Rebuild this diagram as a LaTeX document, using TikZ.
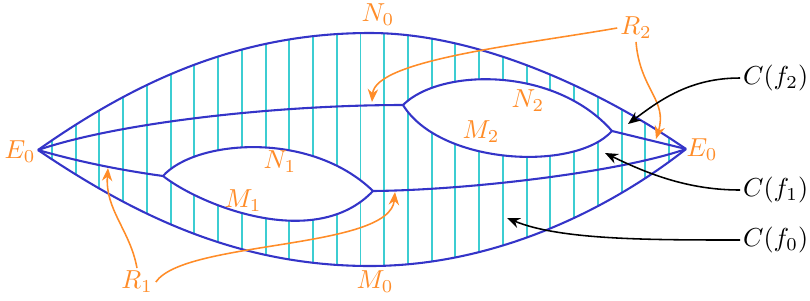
\documentclass[tikz,border=0pt]{standalone}
\usetikzlibrary{arrows.meta}
\definecolor{bblue}{RGB}{52,52,200}
\definecolor{oorange}{RGB}{255,140,40}
\definecolor{ccyan}{RGB}{60,205,210}
\tikzset{
  bline/.style={draw=bblue, line width=0.8pt},
  hatch/.style={draw=ccyan, line width=0.75pt},
  oarrow/.style={draw=oorange, line width=0.6pt, -{Stealth[length=5pt,width=4pt]}},
  karrow/.style={draw=black, line width=0.6pt, -{Stealth[length=5pt,width=4pt]}},
  olabel/.style={text=oorange, inner sep=1pt},
  klabel/.style={text=black, inner sep=1pt},
}
\begin{document}
\begin{tikzpicture}[x=0.3846pt, y=-0.3846pt]
\useasboundingbox (0,0) rectangle (810,300);
% named points
\coordinate (EL) at (38,150);
\coordinate (ER) at (686,149);
\coordinate (Ntop) at (370,33);
\coordinate (Mbot) at (370,266);
\coordinate (J2) at (403,105);
\coordinate (K2) at (612,131);
\coordinate (J1) at (163,176);
\coordinate (K1) at (373,191);
% hatching clipped to outer lens
\begin{scope}
  \clip (EL) .. controls (136,81) and (240,33) .. (Ntop)
             .. controls (480,33) and (603,92) .. (ER)
             .. controls (615,205) and (500,266) .. (Mbot)
             .. controls (240,266) and (137,217) .. (EL) -- cycle;
  \foreach \k in {0,...,26} {
    \draw[hatch] ({52+23.73*\k},0) -- ({52+23.73*\k},300);
  }
\end{scope}
% white lens interiors
\fill[white] (J2) .. controls (440,68) and (555,66) .. (K2)
                  .. controls (575,172) and (440,165) .. (J2) -- cycle;
\fill[white] (J1) .. controls (195,140) and (310,130) .. (K1)
                  .. controls (315,252) and (200,205) .. (J1) -- cycle;
% blue curves
\draw[bline] (EL) .. controls (136,81) and (240,33) .. (Ntop)
                  .. controls (480,33) and (603,92) .. (ER);
\draw[bline] (EL) .. controls (137,217) and (240,266) .. (Mbot)
                  .. controls (500,266) and (615,205) .. (ER);
\draw[bline] (EL) .. controls (120,122) and (280,105) .. (J2);
\draw[bline] (J2) .. controls (440,68) and (555,66) .. (K2);
\draw[bline] (J2) .. controls (440,165) and (575,172) .. (K2);
\draw[bline] (K2) -- (ER);
\draw[bline] (EL) .. controls (80,162) and (120,170) .. (J1);
\draw[bline] (J1) .. controls (195,140) and (310,130) .. (K1);
\draw[bline] (J1) .. controls (200,205) and (315,252) .. (K1);
\draw[bline] (K1) .. controls (470,190) and (620,172) .. (ER);
% labels
\node[olabel] (N0) at (378,15) {$N_0$};
\node[olabel] (M0) at (375,282) {$M_0$};
\node[olabel] (N1) at (280,162) {$N_1$};
\node[olabel] (M1) at (243,201) {$M_1$};
\node[olabel] (N2) at (528,101) {$N_2$};
\node[olabel] (M2) at (481,132) {$M_2$};
\node[olabel] (EL0) at (20,152) {$E_0$};
\node[olabel] (ER0) at (702,150) {$E_0$};
\node[olabel] (R1) at (137,282) {$R_1$};
\node[olabel] (R2) at (636,28) {$R_2$};
\node[klabel, anchor=west] (Cf2) at (740,78) {$C(f_2)$};
\node[klabel, anchor=west] (Cf1) at (740,190) {$C(f_1)$};
\node[klabel, anchor=west] (Cf0) at (740,240) {$C(f_0)$};
% arrow targets
\coordinate (tR2a) at (372,102);
\coordinate (tR2b) at (656,139);
\coordinate (tR1a) at (108,168);
\coordinate (tR1b) at (395,192);
\coordinate (tC2) at (628,124);
\coordinate (tC1) at (605,153);
\coordinate (tC0) at (507,218);
% orange arrows
\draw[oarrow] (R2.west) .. controls (520,45) and (375,60) .. (tR2a);
\draw[oarrow] (R2.south) .. controls (640,90) and (668,100) .. (tR2b);
\draw[oarrow] (R1.north) .. controls (130,230) and (105,210) .. (tR1a);
\draw[oarrow] (R1.east) .. controls (185,240) and (390,250) .. (tR1b);
% black arrows
\draw[karrow] (Cf2.west) .. controls (690,78) and (660,100) .. (tC2);
\draw[karrow] (Cf1.west) .. controls (690,190) and (650,175) .. (tC1);
\draw[karrow] (Cf0.west) .. controls (650,240) and (560,240) .. (tC0);
\end{tikzpicture}
\end{document}
